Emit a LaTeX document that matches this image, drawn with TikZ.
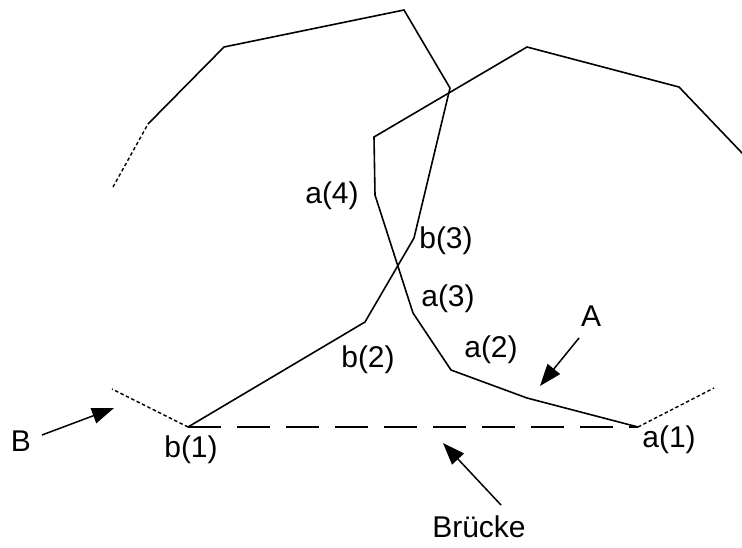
\documentclass[tikz,border=0pt]{standalone}
\usepackage{fontspec}
\setmainfont{Liberation Sans}
\usetikzlibrary{arrows.meta}
\begin{document}
\begin{tikzpicture}[x=1pt,y=-1pt,
  curve/.style={line width=1.6pt,line join=miter},
  dotline/.style={line width=1.4pt,dash pattern=on 3.5pt off 2.5pt},
  bridge/.style={line width=1.6pt,dash pattern=on 33pt off 16pt},
  pointer/.style={line width=1.5pt,-{Triangle[length=22pt,width=16pt]}},
  lbl/.style={inner sep=0pt,font=\fontsize{30}{36}\selectfont}]
\useasboundingbox (0,0) rectangle (742,547);
% curve b
\coordinate (b0) at (113,187);
\coordinate (b1) at (148,124);
\coordinate (b2) at (224,47);
\coordinate (b3) at (404,10);
\coordinate (b4) at (450,88);
\coordinate (b5) at (414,238);
\coordinate (b6) at (365,322);
\coordinate (b7) at (188,427);
\coordinate (b8) at (112,389);
% curve a
\coordinate (a0) at (638,427);
\coordinate (a1) at (527,398);
\coordinate (a2) at (451,370);
\coordinate (a3) at (413,313);
\coordinate (a4) at (375,195);
\coordinate (a5) at (374,137);
\coordinate (a6) at (527,47);
\coordinate (a7) at (679,87);
\coordinate (a8) at (743,154);
\coordinate (a9) at (714,388);
\draw[dotline] (b0) -- (b1);
\draw[curve] (b1) -- (b2) -- (b3) -- (b4) -- (b5) -- (b6) -- (b7);
\draw[dotline] (b7) -- (b8);
\draw[curve] (a0) -- (a1) -- (a2) -- (a3) -- (a4) -- (a5) -- (a6) -- (a7) -- (a8);
\draw[dotline] (a0) -- (a9);
\draw[bridge] (b7) -- (a0);
% labels
\node[lbl] (la4) at (332,196) {a(4)};
\node[lbl] (lb3) at (446,241) {b(3)};
\node[lbl] (la3) at (448,299) {a(3)};
\node[lbl] (lb2) at (368,360) {b(2)};
\node[lbl] (la2) at (491,350) {a(2)};
\node[lbl] (lA) at (591,316) {A};
\node[lbl] (la1) at (669,440) {a(1)};
\node[lbl] (lb1) at (191,450) {b(1)};
\node[lbl] (lB) at (21,441) {B};
\node[lbl] (lbr) at (479,527) {Brücke};
% arrows
\coordinate (tB) at (42,435);
\coordinate (hB) at (114,408);
\coordinate (tA) at (579,338);
\coordinate (hA) at (540,386);
\coordinate (tBr) at (501,505);
\coordinate (hBr) at (443,443);
\draw[pointer] (tB) -- (hB);
\draw[pointer] (tA) -- (hA);
\draw[pointer] (tBr) -- (hBr);
\end{tikzpicture}
\end{document}
